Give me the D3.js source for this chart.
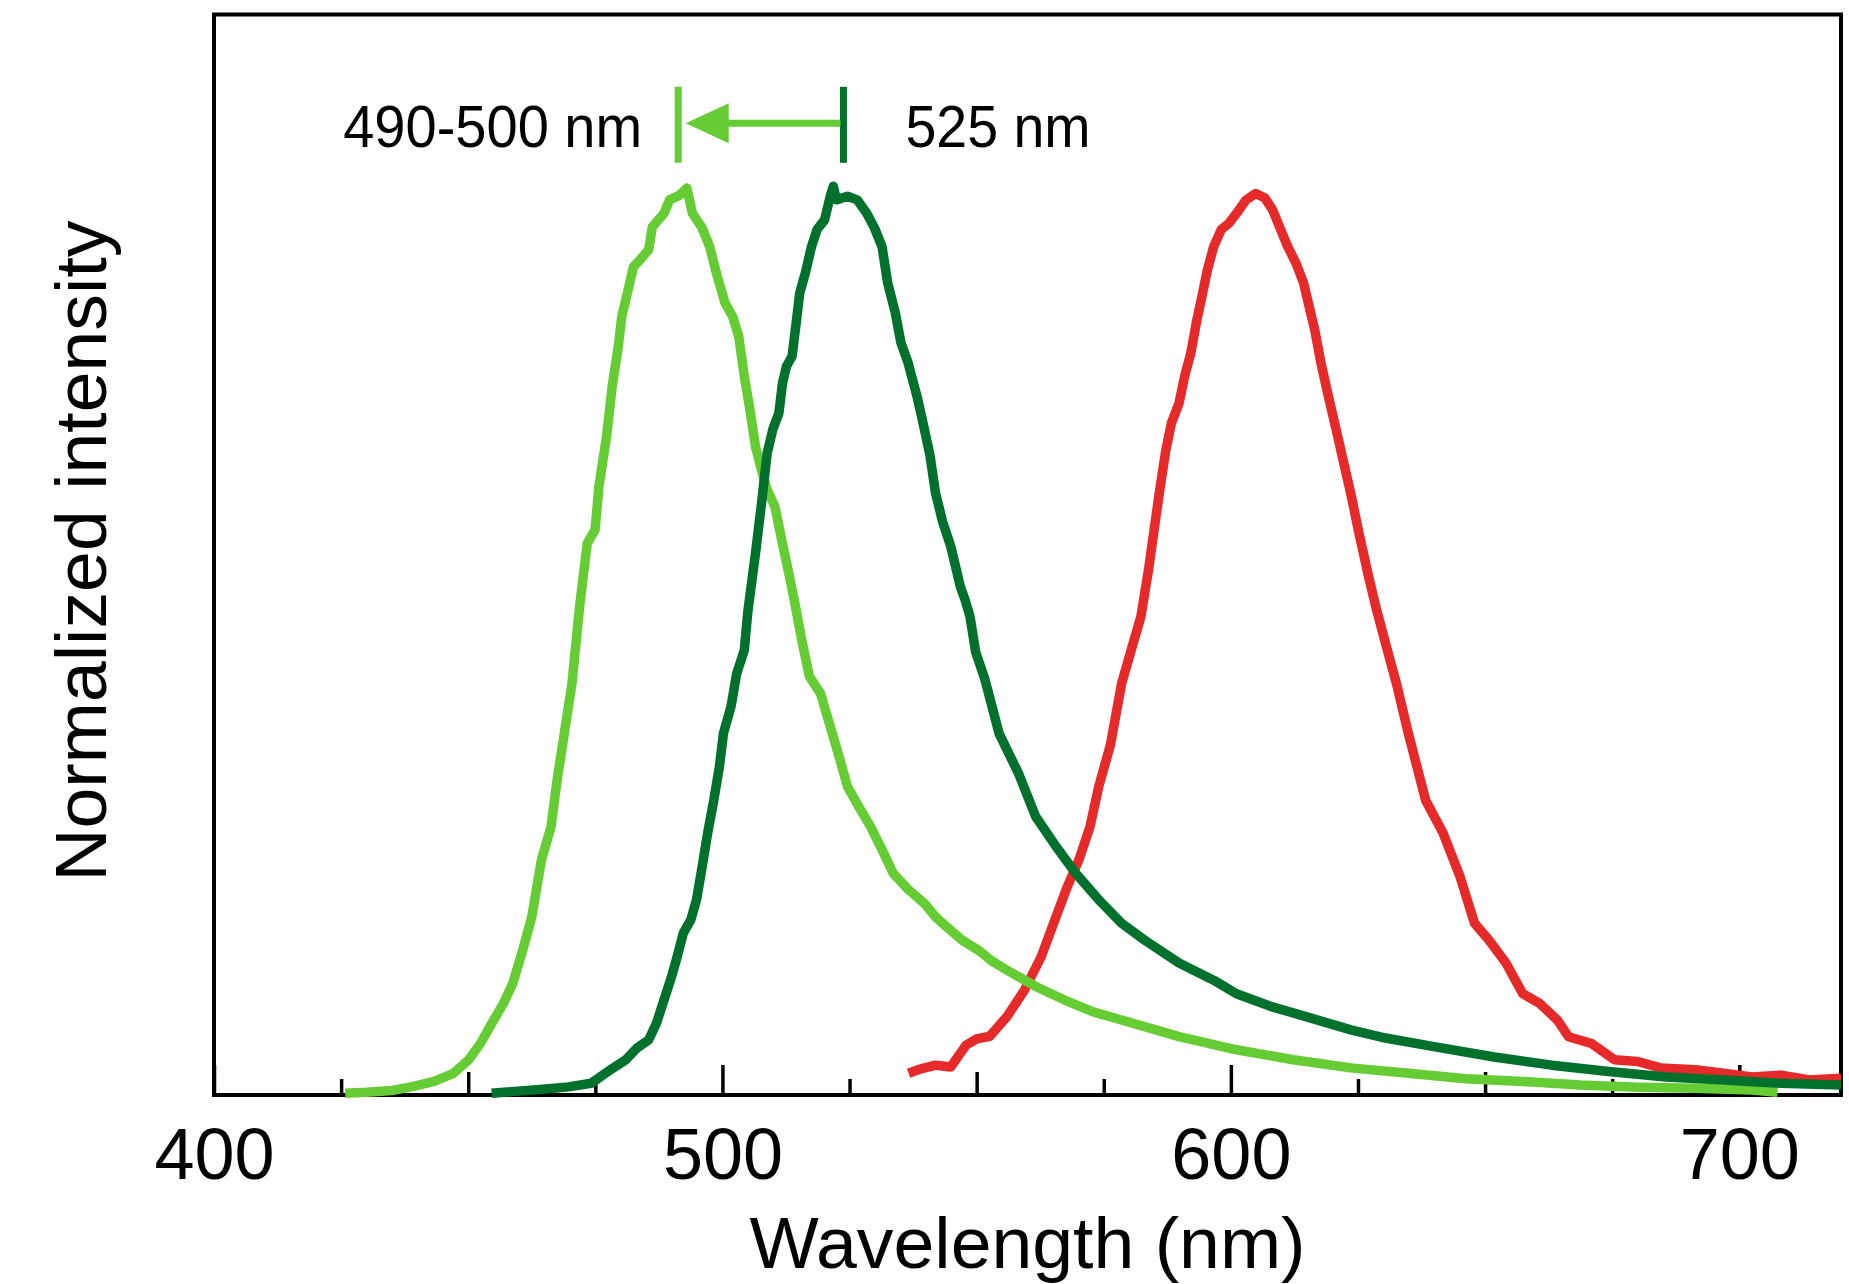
<!DOCTYPE html>
<html><head><meta charset="utf-8">
<script src="https://cdn.jsdelivr.net/npm/d3@7/dist/d3.min.js"></script>
<style>body{margin:0;background:#fff}text{font-family:"Liberation Sans",Arial,sans-serif;fill:#000}</style>
</head><body>
<svg id="chart" width="1849" height="1284"></svg>
<script>
// ---- data: [wavelength (nm), normalized intensity] ----
const lightGreen = [[425.8,0.002],[430,0.003],[435,0.005],[438.8,0.009],[443.3,0.015],[447.1,0.024],[450.1,0.039],[452.4,0.057],[454.6,0.079],[456.9,0.101],[458.8,0.124],[460.7,0.16],[462.5,0.197],[464.4,0.26],[466.3,0.297],[467.4,0.345],[468.9,0.40],[470.4,0.455],[471.9,0.54],[473.4,0.61],[474.95,0.625],[475.7,0.673],[477.2,0.728],[478.3,0.783],[479.5,0.827],[480.2,0.861],[481.3,0.887],[482.5,0.916],[484.0,0.925],[485.5,0.935],[486.2,0.96],[488.5,0.975],[489.6,0.99],[491.5,0.995],[493.0,1.003],[494.1,0.975],[496.0,0.959],[497.5,0.938],[499.0,0.905],[500.5,0.876],[502.0,0.861],[503.2,0.839],[504.3,0.795],[505.4,0.758],[506.5,0.717],[507.7,0.691],[508.8,0.669],[510.3,0.651],[511.8,0.61],[513.3,0.57],[514.1,0.548],[515.6,0.503],[517.1,0.463],[519.3,0.444],[521.6,0.40],[523.1,0.371],[524.6,0.341],[526.8,0.319],[529.1,0.297],[531.4,0.271],[533.6,0.245],[536.6,0.227],[539.7,0.212],[541.9,0.197],[544.5,0.184],[547.2,0.171],[550.4,0.16],[553,0.148],[556.0,0.138],[561.6,0.12],[567.3,0.105],[572.9,0.092],[578.5,0.083],[589.8,0.0645],[601.1,0.05],[612.3,0.039],[623.6,0.03],[634.9,0.024],[646.2,0.018],[657.4,0.015],[668.7,0.011],[680,0.0085],[691.3,0.0074],[702.5,0.0055],[707.5,0.003]];

const darkGreen = [[454.6,0.002],[459.1,0.004],[465.9,0.007],[469.7,0.009],[474.2,0.013],[478.0,0.028],[481.0,0.039],[483.2,0.052],[485.5,0.061],[487.0,0.079],[488.5,0.105],[490.0,0.131],[491.1,0.153],[492.3,0.179],[493.8,0.194],[494.9,0.216],[496.0,0.252],[497.1,0.29],[498.3,0.326],[499.4,0.363],[500.2,0.40],[501.7,0.43],[502.8,0.466],[504.3,0.492],[505.0,0.535],[506.5,0.599],[507.7,0.655],[508.8,0.71],[509.9,0.736],[511.1,0.754],[511.8,0.787],[512.6,0.806],[513.7,0.817],[514.5,0.854],[515.2,0.887],[516.3,0.909],[517.5,0.938],[518.6,0.957],[520.1,0.968],[521.2,0.994],[521.8,1.005],[522.4,0.99],[524.6,0.994],[526.5,0.99],[528.4,0.975],[529.9,0.959],[531.4,0.938],[532.5,0.898],[534.0,0.865],[535.1,0.832],[536.5,0.81],[538.3,0.772],[539.3,0.747],[540.8,0.708],[541.9,0.666],[543.3,0.634],[544.9,0.607],[546.8,0.562],[547.7,0.548],[548.7,0.529],[549.8,0.49],[551.6,0.46],[554.4,0.40],[558.2,0.356],[561.6,0.308],[565.6,0.275],[569.5,0.245],[574.0,0.216],[578.5,0.19],[583.1,0.171],[589.8,0.146],[596.6,0.127],[601.1,0.112],[607.8,0.098],[614.6,0.087],[623.6,0.072],[630.4,0.063],[640.5,0.053],[651.8,0.042],[663.1,0.033],[674.3,0.026],[685.6,0.02],[696.9,0.0166],[708.2,0.013],[720,0.011]];

const redSeries = [[536.6,0.024],[538.5,0.028],[541.9,0.033],[544.9,0.031],[547.9,0.055],[550,0.062],[552.6,0.065],[556.0,0.087],[559.4,0.116],[562.7,0.153],[565.6,0.197],[567.8,0.23],[570.1,0.26],[572.3,0.297],[574.0,0.341],[576.3,0.387],[578.5,0.455],[580.8,0.5],[582.3,0.529],[583.8,0.581],[584.9,0.625],[586.0,0.669],[587.2,0.713],[588.3,0.743],[589.8,0.765],[590.9,0.795],[592.1,0.82],[593.2,0.854],[594.3,0.883],[595.4,0.913],[596.6,0.938],[598.1,0.957],[599.6,0.964],[601.1,0.975],[603.0,0.99],[604.9,0.997],[606.7,0.992],[608.2,0.979],[609.8,0.957],[611.2,0.938],[612.8,0.92],[614.3,0.898],[615.4,0.872],[616.5,0.846],[617.7,0.81],[619.2,0.772],[620.7,0.736],[622.2,0.699],[623.7,0.662],[625.2,0.621],[627.1,0.573],[628.5,0.54],[630.4,0.5],[632.7,0.452],[634.9,0.40],[638.3,0.326],[641.7,0.29],[645.1,0.241],[647.9,0.19],[650.8,0.171],[654.1,0.146],[657.4,0.112],[660.8,0.101],[664.2,0.083],[666.4,0.0645],[670.9,0.057],[675.4,0.039],[680.0,0.037],[684.5,0.03],[691.3,0.028],[696.9,0.024],[702.5,0.02],[708.2,0.022],[713.8,0.0166],[720,0.0185]];

const xTickValues = [400,425,450,475,500,525,550,575,600,625,650,675,700];
const xTickLabels = ["400","500","600","700"];
const peakMarkers = [491.3, 523.8];            // nm, arrow from 523.8 to 491.3
const annotationLabels = ["490-500 nm", "525 nm"];
const xTitle = "Wavelength (nm)";
const yTitle = "Normalized intensity";

// ---- layout ----
const svg = d3.select("#chart");
const L = 214, R = 1841, T = 14.5, B = 1095;
const x = d3.scaleLinear().domain([400, 720]).range([L, R]);
const y = d3.scaleLinear().domain([0, 1.195]).range([B, T]);

const colLight = "#66cc33", colDark = "#00712c", colRed = "#e62a2a";

// frame
svg.append("rect").attr("x", L).attr("y", T).attr("width", R - L).attr("height", B - T)
  .attr("fill", "none").attr("stroke", "#000").attr("stroke-width", 4);

// x axis
const tickLen = v => v % 100 === 0 ? 30 : (v % 50 === 0 ? 23 : 16);
const axis = d3.axisBottom(x).tickValues(xTickValues).tickSizeOuter(0)
  .tickFormat(v => xTickLabels.includes(String(v)) ? String(v) : "");
const gx = svg.append("g").attr("transform", `translate(0,${B})`).call(axis);
gx.select(".domain").remove();
gx.selectAll(".tick line").attr("y2", d => -tickLen(d)).attr("stroke", "#000").attr("stroke-width", 3.5);
gx.selectAll(".tick text").attr("y", 84).attr("dy", 0)
  .style("font-size", "72px").style("font-family", '"Liberation Sans",Arial,sans-serif').attr("fill", "#000");

// curves
const line = d3.line().x(d => x(d[0])).y(d => y(d[1]));
[[redSeries, colRed], [lightGreen, colLight], [darkGreen, colDark]].forEach(([data, c]) => {
  svg.append("path").datum(data).attr("d", line).attr("fill", "none")
    .attr("stroke", c).attr("stroke-width", 9.5).attr("stroke-linejoin", "round");
});

// annotation markers
const mTop = 1.115, mBot = 1.031, arrowV = 1.0747, textV = 1.0487;
svg.append("line").attr("x1", x(peakMarkers[0])).attr("x2", x(peakMarkers[0]))
  .attr("y1", y(mTop)).attr("y2", y(mBot)).attr("stroke", colLight).attr("stroke-width", 7);
svg.append("line").attr("x1", x(peakMarkers[1])).attr("x2", x(peakMarkers[1]))
  .attr("y1", y(mTop)).attr("y2", y(mBot)).attr("stroke", colDark).attr("stroke-width", 7);
const tipX = x(peakMarkers[0]) + 7.5, headLen = 43, headHalf = 20, ay = y(arrowV);
svg.append("line").attr("x1", x(peakMarkers[1]) - 3).attr("x2", tipX + headLen - 2)
  .attr("y1", ay).attr("y2", ay).attr("stroke", colLight).attr("stroke-width", 7);
svg.append("path").attr("d", `M${tipX},${ay}L${tipX + headLen},${ay - headHalf}L${tipX + headLen},${ay + headHalf}Z`)
  .attr("fill", colLight);

// annotation labels
svg.append("text").attr("x", x(peakMarkers[0]) - 36).attr("y", y(textV)).attr("text-anchor", "end")
  .style("font-size", "60px").attr("textLength", 299).attr("lengthAdjust", "spacingAndGlyphs")
  .text(annotationLabels[0]);
svg.append("text").attr("x", x(peakMarkers[1]) + 62).attr("y", y(textV))
  .style("font-size", "60px").attr("textLength", 185).attr("lengthAdjust", "spacingAndGlyphs")
  .text(annotationLabels[1]);

// axis titles
svg.append("text").attr("x", (L + R) / 2).attr("y", 1268).attr("text-anchor", "middle")
  .style("font-size", "72px").attr("textLength", 556).attr("lengthAdjust", "spacingAndGlyphs").text(xTitle);
svg.append("text").attr("transform", "translate(106,551) rotate(-90)").attr("text-anchor", "middle")
  .style("font-size", "72px").attr("textLength", 661).attr("lengthAdjust", "spacingAndGlyphs").text(yTitle);
</script>
</body></html>
